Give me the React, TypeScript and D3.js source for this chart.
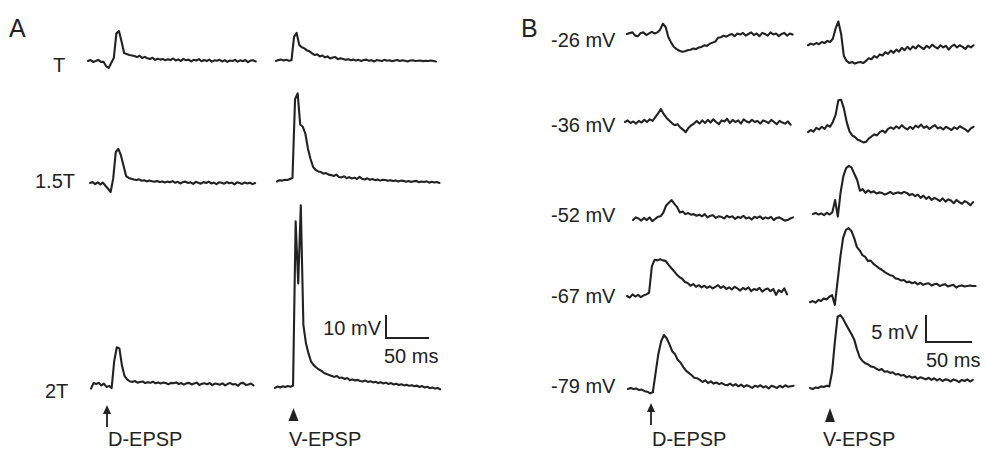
import React from 'react';
import * as d3 from 'd3';

// Sampling interval of all traces (ms)
const DT = 3;

// ---- Panel A: membrane potential (mV, relative to resting baseline) ----
const A_T_D = [0, 0.4, -0.4, 0, 0.5, -0.4, -0.3, -2.2, -3.0, -0.9, 1.3, 12.0, 13.0, 8.5, 3.5, 3.0, 2.6, 2.4,
  2.2, 1.7, 2.3, 1.3, 1.8, 1.2, 0.9, 1.4, 0.5, 1.0, 0.6, 0.9, 0.3, 0.8, 0.4, 1.1, 0.2, 0.7, 0.0, 0.9,
  0.3, 0.6, -0.2, 0.5, 0.2, 0.8, -0.1, 0.4, 0.0, 0.6, -0.3, 0.3, 0.1, 0.5, -0.2, 0.4, -0.4, 0.2, 0.0, 0.5,
  -0.3, 0.3, -0.1, 0.4, -0.5, 0.2, 0.3, -0.2];
const A_T_V = [0, 0.4, 0.6, 0.2, 0.5, 0.1, 0.3, 10.5, 12.2, 7.0, 6.0, 5.5, 4.6, 4.2, 3.3, 2.6, 2.9, 2.0, 2.4, 1.6,
  2.0, 1.1, 1.5, 1.7, 0.8, 1.2,
  0.9, 0.5, 0.8, 0.3, 0.6, 0.2, 0.5, 0.0, 0.4, 0.6, 0.1, 0.3, -0.2, 0.4, 0.2, 0.0, 0.5, 0.1, 0.3, -0.1,
  0.2, 0.4, 0.0, 0.3, 0.1, -0.2, 0.2, 0.3, 0.0, 0.1, 0.2, -0.1, 0.1, 0.0, 0.2, 0.0, -0.2];
const A_15T_D = [0, 0.4, -0.5, 0.3, -0.6, 0.2, -1.2, -2.5, -3.9, 2.0, 13.5, 14.8, 12.0, 7.5, 3.0, 2.2, 1.8, 1.5,
  1.3, 1.6, 1.0, 1.2, 0.7, 1.1, 0.8, 0.5, 0.9, 0.4, 0.7, 0.2, 0.6, 0.3, 0.8, 0.1, 0.5, -0.2, 0.4, 0.6,
  0.0, 0.3, -0.4, 0.5, 0.1, -0.3, 0.4, 0.0, 0.6, -0.2, 0.2, -0.5, 0.3, 0.1, -0.3, 0.4, -0.1, 0.2, -0.6, 0.3,
  0.0, -0.4, 0.2, -0.2, 0.1, -0.5, 0.0];
const A_15T_V = [0.2, 0.8, 0.6, 1.0, 0.9, 1.3, 1.7, 36.0, 38.5, 25.0, 24.0, 21.0, 14.5, 10.0, 6.5, 5.2, 4.6, 4.3,
  3.6, 3.9, 3.2, 3.0, 2.6, 3.2, 2.2, 2.0,
  2.5, 1.7, 2.1, 1.5, 1.9, 1.3, 2.2, 1.4, 1.1, 1.6, 1.0, 1.3, 0.8, 1.1, 0.6, 1.0, 0.9, 0.5, 0.8, 0.4,
  0.7, 0.2, 0.6, 0.5, 0.1, 0.4, 0.0, 0.3, 0.5, -0.1, 0.2, 0.0, 0.3, -0.3, 0.1, -0.2, 0.0, -0.4];
const A_2T_D = [-2.0, 0.4, 0.0, 0.5, -0.6, 0.2, -1.3, -0.8, -1.8, 10.0, 16.0, 15.5, 8.0, 3.5, 2.0, 1.2, 0.9,
  1.3, 0.6, 0.9, 1.1, 0.4, 0.8, 0.5, 1.0, 0.3, 0.7, 0.2, 0.6, 0.4, -0.1, 0.5, 0.3, 0.7, 0.0, 0.4, -0.3,
  0.3, 0.5, -0.2, 0.2, 0.6, -0.4, 0.1, 0.3, -0.1, 0.4, -0.5, 0.2, 0.0, -0.3, 0.3, -0.6, 0.1, 0.4, -0.2, 0.0,
  -0.8, 0.3, 0.5, -0.4, -0.2, 0.2, -0.6];
const A_2T_V = [-0.4, 0.2, -0.2, 0.3, 0.0, 0.4, 0.1, 0.6, 72.0, 45.0, 79.0, 27.0, 19.0, 14.5, 11.0, 9.5, 8.5, 7.6,
  7.0, 6.1, 5.7, 5.2, 4.8, 4.4, 4.8, 3.9, 4.1,
  3.5, 3.9, 3.0, 3.3, 2.8, 3.1, 2.6, 2.4, 2.8, 2.2, 2.5, 2.0, 2.3, 1.7, 2.1, 1.5, 1.9, 1.3, 1.7, 1.1,
  1.4, 0.9, 1.2, 0.7, 1.0, 0.5, 0.8, 0.3, 0.6, 0.0, 0.4, -0.2, 0.1, -0.5, -0.2, -0.7, -0.4, -1.0];

// ---- Panel B: holding potentials ----
const B_26_D = [0, 0.2, 0.3, -0.3, -0.4, 0.2, 0.3, -0.2, 0.1, 0.4, 0.1, 0.3, 0.8, 1.9, 1.3, -0.6, -1.6, -2.4,
  -2.8, -3.1, -3.3, -3.2, -3.0, -2.9, -2.7, -2.8, -2.5, -2.4, -2.1, -2.2, -1.8, -1.6, -1.4, -0.7, -0.6, -0.3, -0.5,
  -0.2, 0.0, -0.4, 0.1, -0.1, 0.2, -0.3, 0.0, 0.3, -0.2, 0.1, -0.4, 0.2, 0.0, -0.3, 0.3, -0.1, 0.1, -0.4, 0.0,
  0.2, -0.3, 0.1, -0.1];
const B_26_V = [-0.6, -0.3, -0.5, -0.2, -0.4, 0.0, -0.2, 0.2, 0.0, 0.6, 2.5, 3.8, 1.5, -2.6, -3.5, -3.9, -3.7,
  -4.0, -3.8, -3.7, -3.9, -3.5, -3.0, -3.2, -2.6, -2.9, -2.3, -2.5, -1.9, -2.2, -1.6, -2.0, -1.4, -1.8, -1.1,
  -1.5, -0.9, -1.4,
  -0.8, -1.2, -0.6, -1.0, -1.3, -0.7, -1.1, -0.5, -0.9, -1.2, -0.6, -1.0, -0.7, -1.4, -0.8, -0.5, -1.0,
  -0.6, -0.9, -1.3, -0.7, -1.0, -0.6];
const B_36_D = [0.0, 0.3, -0.2, 0.1, -0.3, 0.2, -0.1, 0.4, 0.0, 0.5, 0.2, 0.9, 1.6, 2.4, 1.5, 0.8, 0.3, -0.2,
  -0.6, -0.4, -1.0, -1.4, -1.9, -1.1, -0.6, -0.3, 0.2, -0.3,
  0.3, -0.2, 0.4, -0.1, 0.5, 0.0, -0.4, 0.3, 0.1, 0.6, -0.2, 0.4, 0.0, 0.3, -0.3, 0.5, 0.1, -0.1, 0.4, 0.0,
  0.2, -0.3, 0.3, 0.1, -0.2, 0.4, 0.0, -0.4, 0.2, -0.1, -0.3, 0.1, -0.5];
const B_36_V = [-0.4, 0.0, -0.3, 0.4, 0.1, 0.6, 0.2, 0.9, 0.6, 1.5, 2.8, 5.5, 5.6, 4.0, 1.5, -0.2, -1.0, -1.3,
  -1.8, -2.0, -2.3, -2.2, -1.6, -1.2, -0.8, -1.0, -0.4, -0.1, -0.5, 0.2, 0.5,
  0.2, 0.7, 0.3, 0.9, 0.4, 0.1, 0.6, 0.2, 0.8, 0.5, 1.0, 0.4, 0.7, 0.2, 0.6, 0.9, 0.3, 0.5, 0.1, 0.6,
  0.3, 0.0, 0.5, 0.2, 0.7, 0.4, 0.1, -0.3, 0.3, 0.6];
const B_52_D = [-0.2, 0.3, 0.1, -0.3, 0.2, -0.2, 0.3, -0.4, 0.0, 0.4, 0.5, 1.2, 2.5, 3.0, 3.5, 2.8, 2.2, 1.2,
  1.4, 0.9, 1.1, 0.8, 0.9, 0.6, 0.8,
  0.5, 0.9, 0.3, 0.6, 0.7, 0.2, 0.5, 0.4, 0.1, 0.6, 0.3, 0.5, 0.0, 0.4, 0.2, 0.6, 0.1, 0.3, -0.1, 0.4,
  0.2, 0.5, 0.0, 0.3, 0.1, 0.4, -0.2, 0.2, 0.3, 0.0, -0.3, -0.2, 0.1, 0.3];
const B_52_V = [0.0, 0.2, -0.1, 0.1, -0.2, 0.2, -0.1, 0.3, 2.6, -0.5, 4.0, 7.0, 8.5, 8.9, 8.6, 7.4, 6.3, 4.3,
  4.6, 3.9, 4.4, 4.0, 4.2, 3.8, 4.0, 3.9, 3.6, 3.8, 4.1, 3.7, 3.9, 4.0, 3.8, 4.1, 3.9,
  3.5, 3.7, 3.3, 3.6, 3.0, 3.4, 2.8, 3.2, 2.6, 3.0, 2.7, 2.4, 2.9, 2.3, 2.7, 2.5, 2.0, 2.6, 2.2, 1.9,
  2.4, 2.1, 1.6, 2.2];
const B_67_D = [0.0, -0.3, 0.3, -0.1, 0.2, -0.2, 0.1, 0.3, 0.6, 5.5, 6.7, 6.6, 6.8, 6.6, 6.5, 5.8, 5.2, 4.6,
  4.0, 3.5, 3.2, 2.6, 2.4, 1.9, 2.2, 1.7, 2.0,
  1.6, 1.9, 1.5, 1.8, 1.4, 1.7, 2.0, 1.5, 1.8, 1.3, 1.6, 1.2, 1.7, 1.4, 1.0, 1.5, 1.2, 1.6, 0.9, 1.3,
  1.1, 1.5, 0.8, 1.2, 1.4, 0.9, 1.3, 0.2, 1.1, 0.7, 1.4, 0.3];
const B_67_V = [-0.4, -0.2, -0.5, 0.0, -0.2, 0.3, 0.1, 0.6, 0.9, -0.9, 3.5, 8.0, 11.5, 13.0, 13.3, 12.8, 11.5,
  9.8, 9.2, 8.3, 8.0, 7.2, 7.3, 6.7, 6.3, 5.9, 5.6, 5.2, 4.9, 4.6, 4.5, 4.0, 3.9, 3.6, 3.7, 3.3,
  3.4, 3.1, 3.3, 2.9, 3.2, 2.8, 3.0, 3.1, 2.7, 2.9, 3.0, 2.6, 2.8, 2.9, 2.5, 2.7, 2.8, 2.3, 2.6, 2.7,
  2.5, 2.6, 2.7, 2.6, 2.6];
const B_79_D = [0.0, 0.2, 0.0, 0.1, -0.2, -0.1, -0.4, -0.5, -0.8, -0.6, 3.0, 6.5, 8.8, 10.0, 9.4, 8.3, 7.0, 6.5,
  5.4, 4.9, 4.1, 3.4, 3.0, 2.6, 2.1, 2.0, 1.7, 1.3, 1.6, 1.1, 1.4, 1.0, 1.2, 0.9,
  1.1, 0.8, 0.7, 1.0, 0.6, 0.9, 0.5, 0.8, 0.4, 0.7, 0.5, 0.2, 0.6, 0.4, 0.7, 0.3, 0.5, 0.1, 0.6, 0.4,
  0.2, 0.6, 0.3, 0.7, 0.4, 0.5, 0.6];
const B_79_V = [0.0, -0.2, 0.1, 0.0, 0.3, 0.2, 0.4, 0.3, 3.0, 8.5, 13.2, 13.5, 12.8, 11.8, 10.9, 10.0, 9.0, 7.2,
  5.7, 5.0, 4.6, 4.4, 4.0, 3.9, 3.6, 3.3, 3.5, 3.0, 3.1, 2.8, 2.9, 2.5, 2.6, 2.3,
  2.4, 2.0, 2.2, 1.9, 2.1, 1.7, 2.0, 1.8, 1.6, 1.9, 1.5, 1.8, 1.4, 1.7, 1.3, 1.6, 1.5, 1.2, 1.6, 1.4,
  1.1, 1.5, 1.3, 1.6, 1.2, 1.5];

// Labels
const A_ROW_LABELS = ['T', '1.5T', '2T'];
const B_ROW_LABELS = ['-26 mV', '-36 mV', '-52 mV', '-67 mV', '-79 mV'];
const STIM_LABELS = ['D-EPSP', 'V-EPSP'];
const A_SCALE = { mv: 10, ms: 50 };
const B_SCALE = { mv: 5, ms: 50 };

// Panel scales: px per ms / px per mV
const panelA = { pxMs: 0.86, pxMv: 2.3 };
const panelB = { pxMs: 0.92, pxMv: 5.4 };

const COLOR = '#222';
const FONT = '"Liberation Sans", Arial, sans-serif';

type Trace = { data: number[]; x0: number; y0: number; p: { pxMs: number; pxMv: number } };

const traces: Trace[] = [
  { data: A_T_D, x0: 88, y0: 61, p: panelA },
  { data: A_T_V, x0: 276, y0: 61, p: panelA },
  { data: A_15T_D, x0: 90, y0: 183, p: panelA },
  { data: A_15T_V, x0: 277, y0: 182, p: panelA },
  { data: A_2T_D, x0: 91, y0: 384, p: panelA },
  { data: A_2T_V, x0: 275, y0: 387, p: panelA },
  { data: B_26_D, x0: 627, y0: 34, p: panelB },
  { data: B_26_V, x0: 808, y0: 42, p: panelB },
  { data: B_36_D, x0: 625, y0: 122, p: panelB },
  { data: B_36_V, x0: 808, y0: 130, p: panelB },
  { data: B_52_D, x0: 633, y0: 219, p: panelB },
  { data: B_52_V, x0: 813, y0: 214, p: panelB },
  { data: B_67_D, x0: 627, y0: 296, p: panelB },
  { data: B_67_V, x0: 810, y0: 300, p: panelB },
  { data: B_79_D, x0: 628, y0: 389, p: panelB },
  { data: B_79_V, x0: 810, y0: 388, p: panelB },
];

function tracePath(t: Trace) {
  const x = d3.scaleLinear().domain([0, 1]).range([t.x0, t.x0 + t.p.pxMs]);
  const y = d3.scaleLinear().domain([0, 1]).range([t.y0, t.y0 - t.p.pxMv]);
  const line = d3.line<number>().x((_, i) => x(i * DT)).y((v) => y(v));
  return line(t.data) || '';
}

function ScaleBar({ x, y, p, s, mvLabelX, mvLabelY, msLabelX, msLabelY }: any) {
  const h = d3.scaleLinear().domain([0, 1]).range([0, p.pxMv]);
  const w = d3.scaleLinear().domain([0, 1]).range([0, p.pxMs]);
  const hv = h(s.mv);
  const wv = w(s.ms);
  return (
    <g>
      <path d={`M${x},${y - hv}V${y}H${x + wv}`} fill="none" stroke={COLOR} strokeWidth={2} />
      <text x={mvLabelX} y={mvLabelY} textAnchor="end">{`${s.mv} mV`}</text>
      <text x={msLabelX} y={msLabelY}>{`${s.ms} ms`}</text>
    </g>
  );
}

function Arrow({ x, yTop, yBot }: { x: number; yTop: number; yBot: number }) {
  return (
    <g>
      <line x1={x} x2={x} y1={yTop + 6} y2={yBot} stroke={COLOR} strokeWidth={1.8} />
      <path d={`M${x},${yTop}L${x + 4},${yTop + 9}L${x - 4},${yTop + 9}Z`} fill={COLOR} />
    </g>
  );
}

function Tri({ cx, yTop, yBot }: { cx: number; yTop: number; yBot: number }) {
  return <path d={`M${cx},${yTop}L${cx + 5},${yBot}L${cx - 5},${yBot}Z`} fill={COLOR} />;
}

export default function App() {
  const aRowY = [72, 188, 398];
  const aRowX = [53, 35, 45];
  const bRowY = [47, 132, 222, 303, 393];
  return (
    <svg width={986} height={450} style={{ position: 'absolute', left: 0, top: 0, background: '#fff' }}
      fontFamily={FONT} fontSize={20} fill={COLOR}>
      <rect width={986} height={450} fill="#fff" />
      <text x={9} y={37} fontSize={25}>A</text>
      <text x={521} y={37} fontSize={25}>B</text>
      {A_ROW_LABELS.map((l, i) => (
        <text key={l} x={aRowX[i]} y={aRowY[i]}>{l}</text>
      ))}
      {B_ROW_LABELS.map((l, i) => (
        <text key={l} x={551} y={bRowY[i]}>{l}</text>
      ))}
      {traces.map((t, i) => (
        <path key={i} d={tracePath(t)} fill="none" stroke={COLOR} strokeWidth={2.1}
          strokeLinejoin="round" strokeLinecap="round" />
      ))}
      <ScaleBar x={386} y={338} p={panelA} s={A_SCALE} mvLabelX={381} mvLabelY={335} msLabelX={384} msLabelY={363} />
      <ScaleBar x={926} y={342} p={panelB} s={B_SCALE} mvLabelX={918} mvLabelY={339} msLabelX={926} msLabelY={367} />
      <Arrow x={107} yTop={405} yBot={427} />
      <Tri cx={293.5} yTop={408} yBot={421} />
      <Arrow x={651} yTop={403} yBot={425} />
      <Tri cx={830} yTop={408} yBot={422} />
      <text x={108} y={446}>{STIM_LABELS[0]}</text>
      <text x={289} y={446}>{STIM_LABELS[1]}</text>
      <text x={652} y={446}>{STIM_LABELS[0]}</text>
      <text x={823} y={446}>{STIM_LABELS[1]}</text>
    </svg>
  );
}
